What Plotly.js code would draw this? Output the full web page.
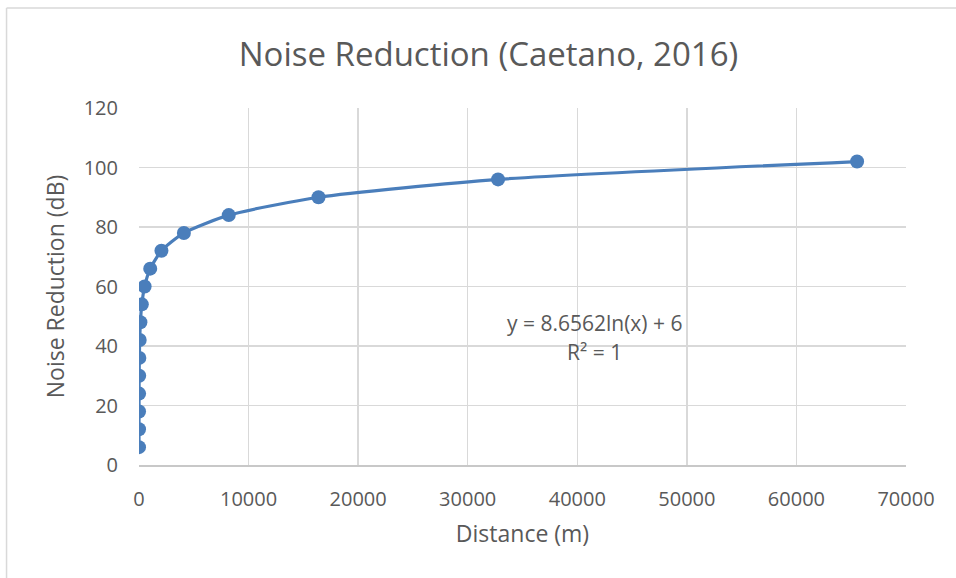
<!DOCTYPE html>
<html>
<head>
<meta charset="utf-8">
<script src="https://cdn.plot.ly/plotly-3.0.1.min.js"></script>
<style>html,body{margin:0;padding:0;background:#fff;}#chart{width:956px;height:578px;}</style>
</head>
<body>
<div id="chart"></div>
<script>
const distance = [1, 2, 4, 8, 16, 32, 64, 128, 256, 512, 1024, 2048, 4096, 8192, 16384, 32768, 65536];
const noiseReduction = [6, 12, 18, 24, 30, 36, 42, 48, 54, 60, 66, 72, 78, 84, 90, 96, 102];
const xTicks = [0, 10000, 20000, 30000, 40000, 50000, 60000, 70000];
const yTicks = [0, 20, 40, 60, 80, 100, 120];
const equationLines = ["y = 8.6562ln(x) + 6", "R² = 1"];

const FONT = "Open Sans, Noto Sans, sans-serif";
const blue = "#4a7ebb";
const grid = "#d9d9d9";
const txt = "#595959";

const trace = {
  x: distance, y: noiseReduction, type: "scatter", mode: "lines+markers",
  line: {color: blue, width: 3.2, shape: "spline", smoothing: 0.6},
  marker: {color: blue, size: 14},
  hoverinfo: "x+y"
};

const layout = {
  width: 956, height: 578,
  margin: {l: 139, r: 50, t: 108, b: 113},
  paper_bgcolor: "#fff", plot_bgcolor: "#fff",
  showlegend: false,
  font: {family: FONT, color: txt},
  title: {text: "Noise Reduction (Caetano, 2016)", font: {family: FONT, size: 33, color: txt}, x: 0.511, xanchor: "center", y: 0.905, yanchor: "middle"},
  xaxis: {
    range: [0, 70000], tickvals: xTicks, ticktext: xTicks.map(String),
    showgrid: true, gridcolor: grid, gridwidth: 1.5, zeroline: false,
    showline: true, linecolor: "#c8c8c8", linewidth: 1.5,
    ticks: "", tickfont: {size: 20, color: txt}, ticklabelstandoff: 15,
    title: {text: "Distance (m)", font: {size: 23, color: txt}, standoff: 15}
  },
  yaxis: {
    range: [0, 120], tickvals: yTicks, ticktext: yTicks.map(String),
    showgrid: true, gridcolor: grid, gridwidth: 1.5, zeroline: false,
    showline: false, ticks: "", tickfont: {size: 20, color: txt}, ticklabelstandoff: 20,
    title: {text: "Noise Reduction (dB)", font: {size: 23, color: txt}, standoff: 12}
  },
  shapes: [
    {type: "line", xref: "paper", yref: "paper", x0: -0.1727, x1: -0.1727, y0: 1.28, y1: -0.33, line: {color: grid, width: 1.5}},
    {type: "line", xref: "paper", yref: "paper", x0: -0.1727, x1: 1.08, y0: 1.28, y1: 1.28, line: {color: grid, width: 1.5}}
  ],
  annotations: [
    {x: 41600, y: 47.7, xref: "x", yref: "y", text: equationLines[0], showarrow: false, font: {size: 21, color: txt}},
    {x: 41600, y: 38, xref: "x", yref: "y", text: equationLines[1], showarrow: false, font: {size: 21, color: txt}}
  ]
};

Plotly.newPlot("chart", [trace], layout, {displayModeBar: false, staticPlot: true});
</script>
</body>
</html>
